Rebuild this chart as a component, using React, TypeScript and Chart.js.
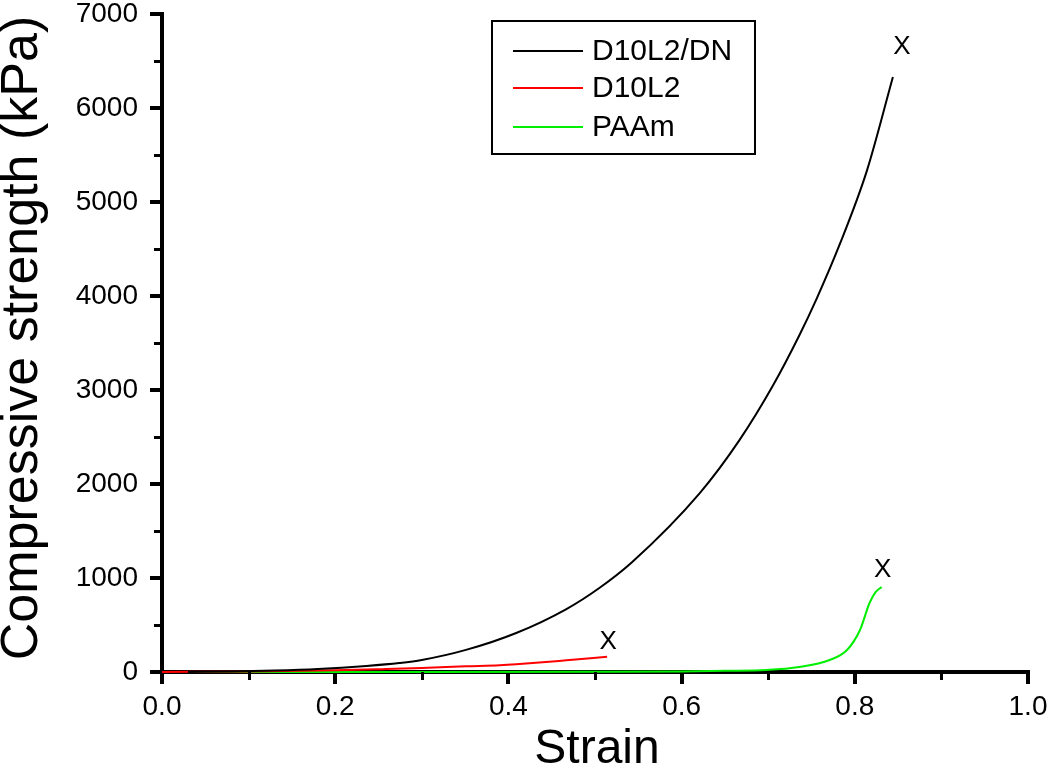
import React, { useEffect, useRef } from "react";
import { Chart, registerables } from "chart.js";

Chart.register(...registerables);

const seriesLabels = ["D10L2/DN", "D10L2", "PAAm"];
const seriesColors = ["#000000", "#ff0000", "#00ee00"];

const strainDN = [0.03, 0.08, 0.13, 0.18, 0.236, 0.274, 0.3, 0.351, 0.409, 0.467, 0.505, 0.543, 0.621, 0.667, 0.705, 0.736, 0.756, 0.783, 0.814, 0.844];
const stressDN = [0, 5, 15, 32, 65, 96, 128, 235, 415, 670, 894, 1171, 1904, 2470, 3040, 3583, 3973, 4559, 5334, 6330];

const strainD10L2 = [0, 0.1, 0.2, 0.254, 0.3, 0.351, 0.39, 0.409, 0.447, 0.467, 0.514];
const stressD10L2 = [0, 6, 18, 30, 42, 60, 72, 82, 108, 125, 162];

const strainPAAm = [0.03, 0.3, 0.5, 0.6, 0.65, 0.698, 0.736, 0.771, 0.791, 0.806, 0.817, 0.824, 0.831];
const stressPAAm = [0, 0, 3, 6, 12, 21, 53, 128, 234, 447, 734, 850, 904];

const xMinorTicks = [0.1, 0.3, 0.5, 0.7, 0.9];
const yMinorTicks = [500, 1500, 2500, 3500, 4500, 5500, 6500];
const xTitle = "Strain";
const yTitle = "Compressive strength (kPa)";
const breakMark = "X";

const FONT = '"Liberation Sans", Arial, sans-serif';
// style: pixel offsets of the break marks from each curve's end
const markOffsets = [[9, -30], [1, -15], [1, -17]];

const toPoints = (xs: number[], ys: number[]) => xs.map((x, i) => ({ x, y: ys[i] }));

const decorPlugin = {
  id: "decor",
  afterDatasetsDraw(chart: any) {
    const ctx = chart.ctx as CanvasRenderingContext2D;
    const xs = chart.scales.x;
    const ys = chart.scales.y;
    const area = chart.chartArea;
    ctx.save();
    // minor ticks
    ctx.strokeStyle = "#000";
    ctx.lineWidth = 3;
    ctx.beginPath();
    xMinorTicks.forEach((v) => {
      const px = Math.round(xs.getPixelForValue(v)) + 0.5;
      ctx.moveTo(px, area.bottom);
      ctx.lineTo(px, area.bottom + 8);
    });
    yMinorTicks.forEach((v) => {
      const py = Math.round(ys.getPixelForValue(v)) + 0.5;
      ctx.moveTo(area.left, py);
      ctx.lineTo(area.left - 8, py);
    });
    ctx.stroke();

    // break marks at curve ends
    ctx.fillStyle = "#000";
    ctx.font = `26px ${FONT}`;
    ctx.textAlign = "center";
    ctx.textBaseline = "middle";
    chart.data.datasets.forEach((ds: any, i: number) => {
      const last = ds.data[ds.data.length - 1];
      const px = xs.getPixelForValue(last.x) + markOffsets[i][0];
      const py = ys.getPixelForValue(last.y) + markOffsets[i][1];
      ctx.fillText(breakMark, px, py);
    });

    // legend box
    const bx = 492, by = 21, bw = 263, bh = 133;
    ctx.lineWidth = 2;
    ctx.strokeStyle = "#000";
    ctx.strokeRect(bx, by, bw, bh);
    const rowY = [51, 88, 127];
    ctx.textAlign = "left";
    ctx.font = `30px ${FONT}`;
    chart.data.datasets.forEach((ds: any, i: number) => {
      ctx.strokeStyle = ds.borderColor;
      ctx.lineWidth = 2;
      ctx.beginPath();
      ctx.moveTo(513, rowY[i]);
      ctx.lineTo(583, rowY[i]);
      ctx.stroke();
      ctx.fillStyle = "#000";
      ctx.fillText(ds.label, 592, rowY[i] + 1);
    });

    // axis titles
    ctx.fillStyle = "#000";
    ctx.textAlign = "center";
    ctx.textBaseline = "middle";
    ctx.font = `48px ${FONT}`;
    ctx.fillText(xTitle, 597, 750);
    ctx.save();
    ctx.translate(23, 338);
    ctx.rotate(-Math.PI / 2);
    ctx.font = `52px ${FONT}`;
    ctx.fillText(yTitle, 0, 0);
    ctx.restore();
    ctx.restore();
  },
};

export default function App() {
  const ref = useRef<HTMLCanvasElement | null>(null);
  useEffect(() => {
    if (!ref.current) return;
    const mk = (i: number, xs: number[], ys: number[]) => ({
      label: seriesLabels[i],
      data: toPoints(xs, ys),
      borderColor: seriesColors[i],
      backgroundColor: seriesColors[i],
      borderWidth: 2,
      pointRadius: 0,
      cubicInterpolationMode: "monotone" as const,
      clip: false as any,
      fill: false,
    });
    const chart = new Chart(ref.current, {
      type: "line",
      data: {
        datasets: [
          mk(0, strainDN, stressDN),
          mk(1, strainD10L2, stressD10L2),
          mk(2, strainPAAm, stressPAAm),
        ],
      },
      options: {
        responsive: false,
        animation: false,
        events: [],
        layout: { padding: { top: 14, right: 22, left: 0, bottom: 0 } },
        plugins: { legend: { display: false }, tooltip: { enabled: false } },
        scales: {
          x: {
            type: "linear",
            min: 0,
            max: 1,
            afterFit: (s: any) => {
              s.height = 96;
              s.paddingLeft = 0;
              s.paddingRight = 0;
              s.paddingTop = 0;
              s.paddingBottom = 0;
            },
            ticks: {
              stepSize: 0.2,
              callback: (v: any) => Number(v).toFixed(1),
              color: "#000",
              font: { family: FONT, size: 28, lineHeight: 1 },
              padding: 9,
              maxRotation: 0,
            },
            grid: { drawOnChartArea: false, drawTicks: true, tickLength: 12, tickWidth: 4, tickColor: "#000", lineWidth: 4 },
            border: { display: true, width: 4, color: "#000" },
          },
          y: {
            type: "linear",
            min: 0,
            max: 7000,
            afterFit: (s: any) => {
              s.width = 162;
              s.paddingLeft = 0;
              s.paddingRight = 0;
              s.paddingTop = 0;
              s.paddingBottom = 0;
            },
            ticks: {
              stepSize: 1000,
              callback: (v: any) => String(v),
              color: "#000",
              font: { family: FONT, size: 28, lineHeight: 1 },
              padding: 12,
            },
            grid: { drawOnChartArea: false, drawTicks: true, tickLength: 12, tickWidth: 4, tickColor: "#000", lineWidth: 4 },
            border: { display: true, width: 4, color: "#000" },
          },
        },
      },
      plugins: [decorPlugin],
    });
    return () => chart.destroy();
  }, []);
  return (
    <div style={{ position: "fixed", left: 0, top: 0, width: 1050, height: 768, background: "#fff" }}>
      <canvas ref={ref} width={1050} height={768} style={{ display: "block" }} />
    </div>
  );
}
